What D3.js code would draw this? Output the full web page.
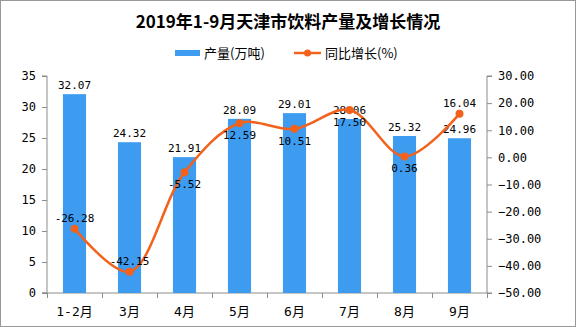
<!DOCTYPE html>
<html>
<head>
<meta charset="utf-8">
<script src="https://cdn.jsdelivr.net/npm/d3@7"></script>
<style>
  html, body { margin: 0; padding: 0; background: #fff; }
  svg { display: block; }
  .mono { font-family: "DejaVu Sans Mono", "Noto Sans CJK SC", monospace; }
</style>
</head>
<body>
<svg id="chart" width="576" height="327"></svg>
<script>
// data
var categories = ["1-2月", "3月", "4月", "5月", "6月", "7月", "8月", "9月"];
var output = [32.07, 24.32, 21.91, 28.09, 29.01, 28.06, 25.32, 24.96];   // 产量(万吨)
var growth = [-26.28, -42.15, -5.52, 12.59, 10.51, 17.50, 0.36, 16.04]; // 同比增长(%)
var leftTicks = [0, 5, 10, 15, 20, 25, 30, 35];
var rightTicks = [-50, -40, -30, -20, -10, 0, 10, 20, 30];

var barColor = "#3d9bf0",
    lineColor = "#f2621c",
    axisColor = "#8c8c8c";

var svg = d3.select("#chart");

// frame
svg.append("rect")
    .attr("x", 0.5).attr("y", 0.5)
    .attr("width", 575).attr("height", 326)
    .attr("fill", "#fff")
    .attr("stroke", "#999");

var plotL = 47, plotR = 487, plotT = 76, plotB = 293;

var x = d3.scaleBand()
    .domain(categories)
    .range([plotL, plotR])
    .paddingInner(0.58)
    .paddingOuter(0.29);

var xEdge = d3.scaleLinear()
    .domain([0, categories.length])
    .range([plotL, plotR]);

var yL = d3.scaleLinear().domain([0, 35]).range([plotB, plotT]);
var yR = d3.scaleLinear().domain([-50, 30]).range([plotB, plotT]);

// title
svg.append("text")
    .attr("x", 288).attr("y", 28)
    .attr("text-anchor", "middle")
    .style("font-family", "'Noto Sans CJK SC', sans-serif")
    .style("font-weight", "bold")
    .style("font-size", "17px")
    .text("2019年1-9月天津市饮料产量及增长情况");

// legend
var lg = svg.append("g").attr("transform", "translate(0,53)");
lg.append("rect")
    .attr("x", 175).attr("y", -3)
    .attr("width", 25).attr("height", 6)
    .attr("fill", barColor);
lg.append("text")
    .attr("x", 204).attr("y", 5)
    .style("font-family", "'Noto Sans CJK SC', sans-serif")
    .style("font-size", "13px")
    .text("产量(万吨)");
lg.append("line")
    .attr("x1", 294).attr("x2", 321)
    .attr("stroke", lineColor).attr("stroke-width", 2.5);
lg.append("circle")
    .attr("cx", 307.5).attr("r", 3.5)
    .attr("fill", lineColor);
lg.append("text")
    .attr("x", 325).attr("y", 5)
    .style("font-family", "'Noto Sans CJK SC', sans-serif")
    .style("font-size", "13px")
    .text("同比增长(%)");

// axes
var gL = svg.append("g")
    .attr("transform", "translate(" + plotL + ",0)")
    .call(d3.axisLeft(yL).tickValues(leftTicks).tickSize(5).tickPadding(6));

var gR = svg.append("g")
    .attr("transform", "translate(" + plotR + ",0)")
    .call(d3.axisRight(yR).tickValues(rightTicks).tickSize(5).tickPadding(6)
        .tickFormat(d3.format(".2f")));

var gX = svg.append("g")
    .attr("transform", "translate(0," + plotB + ")")
    .call(d3.axisBottom(xEdge).ticks(categories.length).tickSize(5).tickFormat(""));

var gXL = svg.append("g")
    .attr("transform", "translate(0," + plotB + ")")
    .call(d3.axisBottom(x).tickSize(0).tickPadding(14));
gXL.select(".domain").remove();

[gL, gR, gX].forEach(function (g) {
    g.selectAll("path.domain").attr("stroke", axisColor);
    g.selectAll(".tick line").attr("stroke", axisColor);
});
gL.select(".domain").attr("d", "M-5," + plotT + "H0V" + plotB + "H-5");
gR.select(".domain").attr("d", "M5," + plotT + "H0V" + plotB + "H5");
gX.select(".domain").attr("d", "M" + (plotL - 5) + ",0H" + (plotR + 1));

svg.selectAll(".tick text")
    .attr("class", "mono")
    .style("font-size", "12px")
    .attr("fill", "#000");
gXL.selectAll(".tick text")
    .style("font-size", "13px");

// bars
svg.append("g").selectAll("rect")
    .data(output)
    .enter().append("rect")
    .attr("x", function (d, i) { return x(categories[i]); })
    .attr("y", function (d) { return yL(d); })
    .attr("width", x.bandwidth())
    .attr("height", function (d) { return yL(0) - yL(d); })
    .attr("fill", barColor);

// bar labels
svg.append("g").selectAll("text")
    .data(output)
    .enter().append("text")
    .attr("class", "mono")
    .attr("x", function (d, i) { return x(categories[i]) + x.bandwidth() / 2; })
    .attr("y", function (d) { return yL(d) - 5; })
    .attr("text-anchor", "middle")
    .style("font-size", "11px")
    .text(function (d) { return d.toFixed(2); });

// growth line
var cx = function (d, i) { return x(categories[i]) + x.bandwidth() / 2; };
var line = d3.line()
    .x(cx)
    .y(function (d) { return yR(d); })
    .curve(d3.curveCatmullRom.alpha(0.5));

svg.append("path")
    .datum(growth)
    .attr("d", line)
    .attr("fill", "none")
    .attr("stroke", lineColor)
    .attr("stroke-width", 2.5);

svg.append("g").selectAll("circle")
    .data(growth)
    .enter().append("circle")
    .attr("cx", cx)
    .attr("cy", function (d) { return yR(d); })
    .attr("r", 4)
    .attr("fill", lineColor);

// growth labels: above for first two and last, below otherwise
var above = function (i) { return i < 2 || i === growth.length - 1; };
svg.append("g").selectAll("text")
    .data(growth)
    .enter().append("text")
    .attr("class", "mono")
    .attr("x", cx)
    .attr("y", function (d, i) { return above(i) ? yR(d) - 7 : yR(d) + 16; })
    .attr("text-anchor", "middle")
    .style("font-size", "11px")
    .text(function (d) { return d.toFixed(2); });
</script>
</body>
</html>
